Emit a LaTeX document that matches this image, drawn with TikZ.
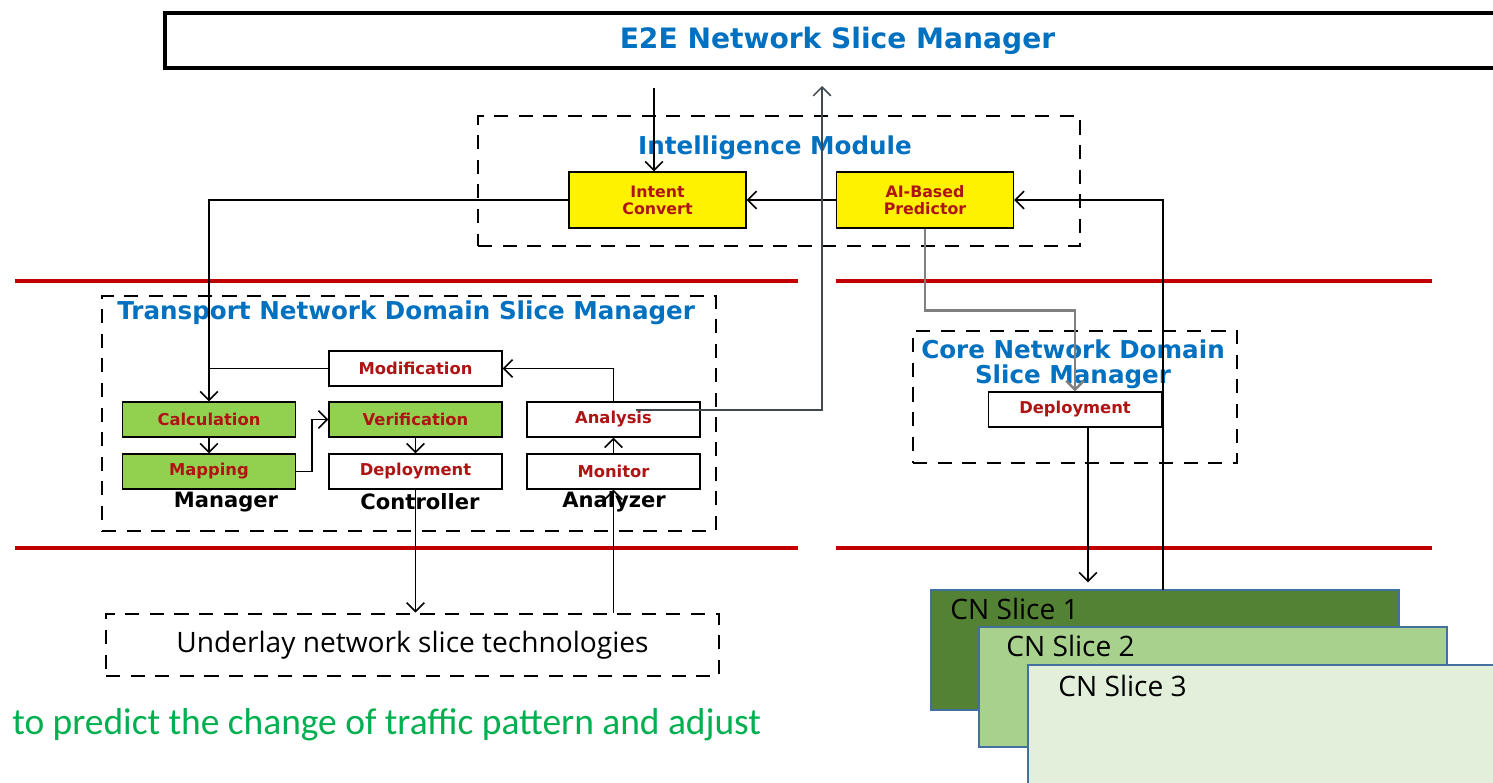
\documentclass[tikz,border=0pt]{standalone}
\usepackage{fontspec}
\setmainfont{DejaVu Sans}
\newfontfamily\plainfont{Open Sans}
\newfontfamily\notefont{Carlito}
\usetikzlibrary{arrows,arrows.meta}

\definecolor{hdblue}{RGB}{0,112,192}
\definecolor{lblred}{RGB}{175,20,20}
\definecolor{boxgreen}{RGB}{146,208,80}
\definecolor{lnred}{RGB}{192,0,0}
\definecolor{slicedk}{RGB}{84,130,53}
\definecolor{slicemd}{RGB}{169,209,142}
\definecolor{slicelt}{RGB}{226,239,218}
\definecolor{sliceedge}{RGB}{65,113,156}
\definecolor{notegreen}{RGB}{0,176,80}
\definecolor{upgray}{RGB}{64,72,80}

\tikzstyle{fbox}=[rectangle, draw, line width=0.8pt, fill=white, minimum width=3.46cm, minimum height=0.7cm, inner sep=0pt, text=lblred, font=\fontsize{9.3}{10}\selectfont\bfseries]
\tikzstyle{gbox}=[fbox, fill=boxgreen]
\tikzstyle{ybox}=[fbox, fill=yellow, minimum width=3.54cm, minimum height=1.12cm, align=center, font=\fontsize{9}{9.8}\selectfont\bfseries]
\tikzstyle{dbox}=[rectangle, draw, line width=1.6pt, dash pattern=on 8pt off 6pt, inner sep=0pt]
\tikzstyle{title}=[text=hdblue, font=\fontsize{14}{16}\selectfont\bfseries, inner sep=0pt]
\tikzstyle{role}=[font=\fontsize{12}{14}\selectfont\bfseries, inner sep=0pt]
\tikzstyle{slice}=[rectangle, draw=sliceedge, line width=0.8pt, minimum width=9.36cm, minimum height=2.4cm]
\tikzstyle{slicetxt}=[anchor=west, inner sep=0pt, font=\plainfont\fontsize{16}{18}\selectfont]
\tikzstyle{arr}=[line width=0.9pt, -{Straight Barb[length=5pt,width=10pt]}]
\tikzstyle{redline}=[lnred, line width=2.3pt]

\begin{document}
\begin{tikzpicture}[x=0.02cm, y=-0.02cm]
  \clip (0,0) rectangle (1493,783);
  \fill[white] (0,0) rectangle (1493,783);

  % top manager
  \node[rectangle, draw, line width=2.4pt, minimum width=26.9cm, minimum height=1.1cm,
        text=hdblue, font=\fontsize{16}{18}\selectfont\bfseries] (e2e) at (837.5,40.5) {E2E Network Slice Manager};

  % intelligence module
  \node[dbox, minimum width=12.04cm, minimum height=2.6cm] (intel) at (779,181) {};
  \node[title] (inteltitle) at (775,148) {Intelligence Module};
  \node[ybox] (intent) at (657.5,200) {Intent\\Convert};
  \node[ybox] (predic) at (925,200) {AI-Based\\Predictor};

  % domain borders
  \draw[redline] (15,281) -- (798,281);
  \draw[redline] (836,281) -- (1432,281);
  \draw[redline] (15,548) -- (798,548);
  \draw[redline] (836,548) -- (1432,548);

  % transport domain
  \node[dbox, minimum width=12.28cm, minimum height=4.7cm] (tn) at (409,413.5) {};
  \node[title, anchor=west] (tntitle) at (117,313) {Transport Network Domain Slice Manager};
  \node[fbox] (modif) at (415.5,368.5) {Modification};
  \node[gbox] (calc) at (209,419.5) {Calculation};
  \node[gbox] (mapp) at (209,471.5) {Mapping};
  \node[gbox] (verif) at (415.5,419.5) {Verification};
  \node[fbox] (deplt) at (415.5,471.5) {Deployment};
  \node[fbox] (anal) at (613.5,419.5) {Analysis};
  \node[fbox] (moni) at (613.5,471.5) {Monitor};
  \node[role] (mgr) at (226,502) {Manager};
  \node[role] (ctl) at (420,502) {Controller};
  \node[role] (anz) at (614,502) {Analyzer};

  \node[dbox, minimum width=12.26cm, minimum height=1.24cm,
        font=\plainfont\fontsize{16}{18}\selectfont] (under) at (412.5,645) {Underlay network slice technologies};

  % core domain
  \node[dbox, minimum width=6.48cm, minimum height=2.64cm] (cn) at (1075,397) {};
  \node[title, align=center, font=\fontsize{14}{14.2}\selectfont\bfseries] (cntitle) at (1073,364) {Core Network Domain\\Slice Manager};
  \node[fbox] (cdepl) at (1075,409.5) {Deployment};

  % core slices
  \node[slice, fill=slicedk] (s1) at (1165,650) {};
  \node[slicetxt] (s1txt) at (950,609) {CN Slice 1};
  \node[slice, fill=slicemd] (s2) at (1213,687) {};
  \node[slicetxt] (s2txt) at (1006,646) {CN Slice 2};
  \node[slice, fill=slicelt] (s3) at (1262,725) {};
  \node[slicetxt] (s3txt) at (1058,686) {CN Slice 3};

  \node[anchor=west, inner sep=0pt, text=notegreen, font=\notefont\fontsize{21.3}{24}\selectfont] (note) at (12,725) {to predict the change of traffic pattern and adjust};

  \coordinate (e2ein) at (654,88);
  \coordinate (e2eup) at (822,86);
  \coordinate (aout) at (636,410);
  \coordinate (fb) at (1163,590);
  \coordinate (cdout) at (1088,427);

  % connectors
  \draw[arr] (e2ein) -- (e2ein |- intent.north);
  \draw[arr] (predic.west) -- (intent.east);
  \draw[arr] (intent.west) -| (calc.north);
  \draw[arr] (fb) |- (predic.east);
  \draw[arr, gray, line width=1.4pt] (predic.south) -- ++(0,82) -| (cdepl.north);
  \draw[arr, shorten >=0.14cm] (cdout) -- (cdout |- s1.north);
  \draw[line width=0.9pt] (modif.west) -- (modif.west -| calc.north);
  \draw[arr] (anal.north) |- (modif.east);
  \draw[arr] (calc) -- (mapp);
  \draw[arr] (mapp.east) -- ++(16,0) |- (verif.west);
  \draw[arr] (verif) -- (deplt);
  \draw[arr] (moni) -- (anal);
  \draw[arr] (deplt.south) -- (deplt.south |- under.north);
  \draw[arr] (moni.south |- under.north) -- (moni.south);
  \draw[arr, upgray] (aout) -| (e2eup);
\end{tikzpicture}
\end{document}
